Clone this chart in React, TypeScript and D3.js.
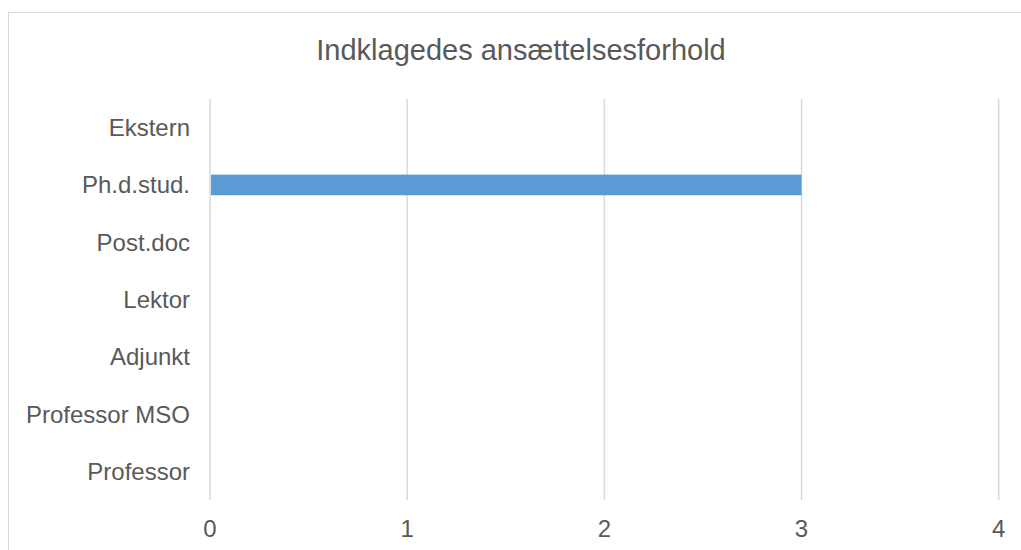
import React from "react";
import * as d3 from "d3";

const title = "Indklagedes ansættelsesforhold";
const categories = ["Ekstern", "Ph.d.stud.", "Post.doc", "Lektor", "Adjunkt", "Professor MSO", "Professor"];
const values = [0, 3, 0, 0, 0, 0, 0];
const xTicks = [0, 1, 2, 3, 4];

export default function App() {
  const W = 1021, H = 550;
  const x = d3.scaleLinear().domain([0, 4]).range([210, 998.7]);
  const y = d3.scaleBand<string>().domain(categories).range([99, 500]).paddingInner(0.64).paddingOuter(0.32);
  const font = "Arial, 'Liberation Sans', sans-serif";
  const textColor = "#595959";
  return (
    <svg width={W} height={H} style={{ position: "absolute", left: 0, top: 0, background: "#fff" }} fontFamily={font}>
      <rect x={8.5} y={12.5} width={1030} height={560} fill="#fff" stroke="#d9d9d9" strokeWidth={1} />
      <text x={521} y={60} textAnchor="middle" fontSize={29} fill={textColor}>{title}</text>
      {xTicks.map(t => (
        <g key={t}>
          <line x1={x(t)} x2={x(t)} y1={99} y2={500} stroke="#d9d9d9" strokeWidth={1.5} />
          <text x={x(t)} y={537} textAnchor="middle" fontSize={24} fill={textColor}>{t}</text>
        </g>
      ))}
      {categories.map((c, i) => (
        <g key={c}>
          {values[i] > 0 && (
            <rect x={x(0) + 1} y={y(c)!} width={x(values[i]) - x(0) - 1} height={y.bandwidth()} fill="#5b9bd5" />
          )}
          <text x={190} y={y(c)! + y.bandwidth() / 2 + 8.5} textAnchor="end" fontSize={24} fill={textColor}>{c}</text>
        </g>
      ))}
    </svg>
  );
}
